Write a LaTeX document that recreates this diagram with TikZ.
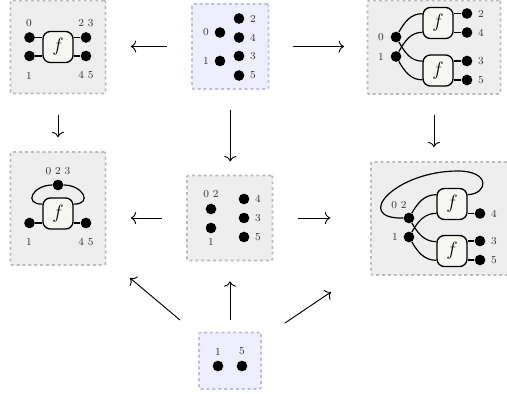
\documentclass[tikz,border=0pt]{standalone}
\usetikzlibrary{arrows.meta}
\definecolor{panelgray}{HTML}{EEEEEE}
\definecolor{edgegray}{HTML}{BBBBBB}
\definecolor{panelblue}{HTML}{EEEEFF}
\definecolor{edgeblue}{HTML}{BBBBEE}
\definecolor{boxfill}{HTML}{F6F6F2}
\tikzset{
  panel/.style = {draw=edgegray, fill=panelgray, line width=1.2pt, rounded corners=1pt,
                  dash pattern=on 2.2pt off 2.2pt, inner sep=0pt},
  bluepanel/.style = {panel, draw=edgeblue, fill=panelblue},
  pt/.style = {circle, fill=black, inner sep=0pt, minimum size=8pt},
  lab/.style = {inner sep=0pt, font=\footnotesize, text=black!80},
  fbox/.style = {draw, fill=boxfill, rounded corners=5.5pt, line width=1pt, inner sep=0pt,
                 minimum width=22.5pt, minimum height=23.25pt, font=\Large},
  wire/.style = {line width=.9pt},
  arr/.style = {-{To[length=4pt,width=9pt]}, line width=.7pt},
}
\begin{document}
\begin{tikzpicture}[x=.75pt, y=-.75pt]
\useasboundingbox (0,0) rectangle (507,393);

% panels
\node (pa) at (58,47) [panel, minimum width=71.25pt, minimum height=69.75pt] {};
\node (pb) at (230.25,46.5) [bluepanel, minimum width=57.4pt, minimum height=63.75pt] {};
\node (pc) at (434,47.25) [panel, minimum width=99.75pt, minimum height=70.1pt] {};
\node (pd) at (58,208.5) [panel, minimum width=71.25pt, minimum height=84.75pt] {};
\node (pe) at (229.75,218) [panel, minimum width=64.1pt, minimum height=63.75pt] {};
\node (pf) at (439.5,218.5) [panel, minimum width=102.75pt, minimum height=84.75pt] {};
\node (pg) at (230,360.75) [bluepanel, minimum width=46.5pt, minimum height=42.4pt] {};

% top left
\node (fa) at (58,47) [fbox] {$f$};
\node (a0) at (29.5,37.5) [pt] {};
\node (a1) at (29.5,56) [pt] {};
\node (a2) at (86,37.5) [pt] {};
\node (a3) at (86,56) [pt] {};
\draw[wire] (a0) -- (a0 -| fa.west);
\draw[wire] (a1) -- (a1 -| fa.west);
\draw[wire] (a2) -- (a2 -| fa.east);
\draw[wire] (a3) -- (a3 -| fa.east);
\node (la0) at (29,23.5) [lab] {0};
\node (la1) at (29,75.5) [lab] {1};
\node (la2) at (86,23.5) [lab] {2 3};
\node (la3) at (86,75.5) [lab] {4 5};

% top middle
\node (b0) at (220,32.5) [pt] {};
\node (b1) at (220,61) [pt] {};
\node (b2) at (239,18.5) [pt] {};
\node (b4) at (239,37.5) [pt] {};
\node (b3) at (239,56) [pt] {};
\node (b5) at (239,75.5) [pt] {};
\node (lb0) at (206,32.5) [lab] {0};
\node (lb1) at (206,60.5) [lab] {1};
\node (lb2) at (253,18.5) [lab] {2};
\node (lb4) at (253,37.5) [lab] {4};
\node (lb3) at (253,56.5) [lab] {3};
\node (lb5) at (253,75.5) [lab] {5};

% top right
\node (fc1) at (438,23) [fbox] {$f$};
\node (fc2) at (438,70.5) [fbox] {$f$};
\node (c0) at (396,37) [pt] {};
\node (c1) at (396,56.5) [pt] {};
\node (c2) at (467,13.5) [pt] {};
\node (c4) at (467,32.5) [pt] {};
\node (c3) at (467,61) [pt] {};
\node (c5) at (467,80) [pt] {};
\draw[wire] (c2) -- (c2 -| fc1.east);
\draw[wire] (c4) -- (c4 -| fc1.east);
\draw[wire] (c3) -- (c3 -| fc2.east);
\draw[wire] (c5) -- (c5 -| fc2.east);
\draw[wire] (c0) to[out=60, in=180] ([yshift=7pt]fc1.west);
\draw[wire] (c1) to[out=60, in=180] ([yshift=-7pt]fc1.west);
\draw[wire] (c0) to[out=-60, in=180] ([yshift=7pt]fc2.west);
\draw[wire] (c1) to[out=-60, in=180] ([yshift=-7pt]fc2.west);
\node (lc0) at (381,37) [lab] {0};
\node (lc1) at (381,56.5) [lab] {1};
\node (lc2) at (481,13.5) [lab] {2};
\node (lc4) at (481,32.5) [lab] {4};
\node (lc3) at (481,61) [lab] {3};
\node (lc5) at (481,80) [lab] {5};

% middle left
\node (fd) at (58,213.5) [fbox] {$f$};
\node (d0) at (58,185) [pt] {};
\node (d1) at (29.5,223) [pt] {};
\node (d2) at (86,223) [pt] {};
\draw[wire] (d1) -- (d1 -| fd.west);
\draw[wire] (d2) -- (d2 -| fd.east);
\draw[wire] (d0) to[out=180, in=180, looseness=2.3] ([yshift=7pt]fd.west);
\draw[wire] (d0) to[out=0, in=0, looseness=2.3] ([yshift=7pt]fd.east);
\node (ld0) at (58,171.5) [lab] {0 2 3};
\node (ld1) at (29,242) [lab] {1};
\node (ld2) at (86,242) [lab] {4 5};

% middle
\node (e0) at (211,209) [pt] {};
\node (e1) at (211,228) [pt] {};
\node (e4) at (244,199) [pt] {};
\node (e3) at (244,218) [pt] {};
\node (e5) at (244,237) [pt] {};
\node (le0) at (211,194.5) [lab] {0 2};
\node (le1) at (211,241.5) [lab] {1};
\node (le4) at (258,199) [lab] {4};
\node (le3) at (258,218) [lab] {3};
\node (le5) at (258,237) [lab] {5};

% middle right
\node (ff1) at (452,204) [fbox] {$f$};
\node (ff2) at (452,251) [fbox] {$f$};
\node (f0) at (409,218) [pt] {};
\node (f1) at (409,237) [pt] {};
\node (f4) at (480,213.5) [pt] {};
\node (f3) at (480,241) [pt] {};
\node (f5) at (480,260) [pt] {};
\coordinate (looptop) at (458,171);
\draw[wire] (f4) -- (f4 -| ff1.east);
\draw[wire] (f3) -- (f3 -| ff2.east);
\draw[wire] (f5) -- (f5 -| ff2.east);
\draw[wire] (f0) to[out=60, in=180] ([yshift=7pt]ff1.west);
\draw[wire] (f1) to[out=60, in=180] ([yshift=-7pt]ff1.west);
\draw[wire] (f0) to[out=-60, in=180] ([yshift=7pt]ff2.west);
\draw[wire] (f1) to[out=-60, in=180] ([yshift=-7pt]ff2.west);
\draw[wire] (f0) .. controls (352,219) and (395,171) .. (looptop)
                 .. controls (491,171) and (488,194) .. ([yshift=7pt]ff1.east);
\node (lf0) at (399,205) [lab] {0 2};
\node (lf1) at (395,237) [lab] {1};
\node (lf4) at (494,213.5) [lab] {4};
\node (lf3) at (494,241) [lab] {3};
\node (lf5) at (494,260) [lab] {5};

% bottom
\node (g1) at (218,366) [pt] {};
\node (g5) at (242,366) [pt] {};
\node (lg1) at (218,351.5) [lab] {1};
\node (lg5) at (242,351.5) [lab] {5};

% arrows
\coordinate (gl) at (180,320);
\coordinate (gr) at (285,323);
\coordinate (dl) at (130,278);
\coordinate (fl) at (331,292);
\draw[arr, shorten <=18pt, shorten >=18.4pt] (pb.west) -- (pb.west -| pa.east);
\draw[arr, shorten <=17.6pt, shorten >=17pt] (pb.east) -- (pb.east -| pc.west);
\draw[arr, shorten <=15.4pt, shorten >=10.5pt] (pa.south) -- (pa.south |- pd.north);
\draw[arr, shorten <=15pt, shorten >=10pt] (pb.south) -- (pb.south |- pe.north);
\draw[arr, shorten <=15pt, shorten >=10.5pt] (pc.south) -- (pc.south |- pf.north);
\draw[arr, shorten <=18pt, shorten >=18.4pt] (pe.west) -- (pe.west -| pd.east);
\draw[arr, shorten <=18.4pt, shorten >=30pt] (pe.east) -- (pe.east -| pf.west);
\draw[arr, shorten <=9pt, shorten >=15pt] (pg.north) -- (pg.north |- pe.south);
\draw[arr] (gl) -- (dl);
\draw[arr] (gr) -- (fl);
\end{tikzpicture}
\end{document}
